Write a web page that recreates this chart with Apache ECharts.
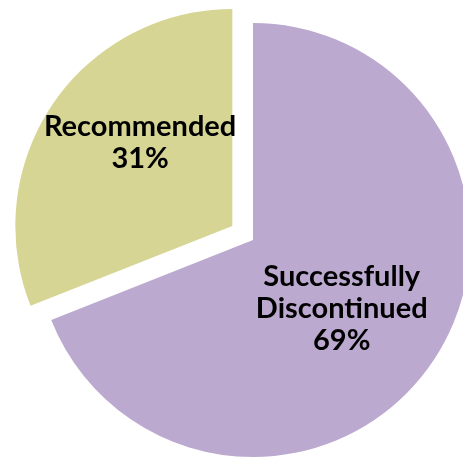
<!DOCTYPE html>
<html>
<head>
<meta charset="utf-8">
<script src="https://cdn.jsdelivr.net/npm/echarts@6/dist/echarts.min.js"></script>
<style>
  html, body { margin: 0; padding: 0; background: #ffffff; }
  #chart { width: 463px; height: 457px; }
</style>
</head>
<body>
<div id="chart"></div>
<script>
// Outcome of the recommendation: share of cases
const categories = ['Successfully\nDiscontinued', 'Recommended'];
const percents = [69, 31];
const sliceColors = ['#BBA9CF', '#D6D594'];

const chart = echarts.init(document.getElementById('chart'), null, { renderer: 'canvas' });

const data = categories.map((name, i) => ({
  name: name,
  value: percents[i],
  itemStyle: { color: sliceColors[i] },
  // the smaller slice is pulled out of the pie
  selected: i === 1
}));

const labelStyle = {
  color: '#000000',
  fontFamily: 'Lato',
  fontWeight: 'bold',
  fontSize: 29,
  lineHeight: 32
};

chart.setOption({
  animation: false,
  series: [{
    type: 'pie',
    center: [253, 240],
    radius: [0, 217],
    startAngle: 90,
    clockwise: true,
    selectedMode: 'single',
    selectedOffset: 25,
    avoidLabelOverlap: false,
    emphasis: { disabled: true },
    itemStyle: { borderWidth: 0 },
    label: {
      show: true,
      position: 'inside',
      // blank spacer lines and padding shift each text block within its slice
      formatter: p => {
        const tok = p.dataIndex === 1 ? 't' : 'u';
        const body = p.name.split('\n').concat(p.value + '%')
          .map(s => '{' + tok + '|' + s + '}').join('\n');
        return p.dataIndex === 1
          ? body + '\n{gapB| }'
          : '{gapT| }\n' + body;
      },
      align: 'center',
      padding: 0,
      rich: {
        t: labelStyle,
        u: Object.assign({}, labelStyle, { padding: [0, 7, 0, 0] }),
        gapB: { fontSize: 10, lineHeight: 42 },
        gapT: { fontSize: 4, lineHeight: 12 }
      }
    },
    labelLine: { show: false },
    data: data
  }]
});
</script>
</body>
</html>
